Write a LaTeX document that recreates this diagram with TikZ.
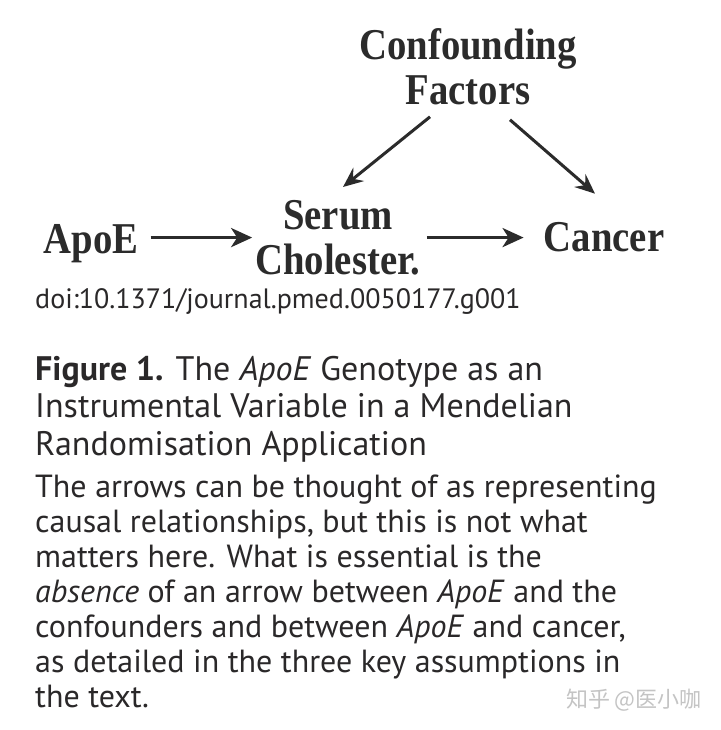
\documentclass[tikz,border=0pt]{standalone}
\usepackage{fontspec}
\usetikzlibrary{arrows.meta, positioning}
\setmainfont{PT Sans}
\newfontfamily\diagfont[FakeStretch=0.88]{Liberation Serif}
\newfontfamily\cjkfont{Noto Sans CJK SC}
\usepackage{xcolor}
\definecolor{FigBlack}{HTML}{2A2829}
\definecolor{DiagGrey}{HTML}{2B2B2B}
\definecolor{MarkGrey}{HTML}{C4C4C4}
\tikzset{
    % Diagram labels - bold serif, no frame
    factorlabel/.style={
        inner sep=0pt,
        align=center,
        text=DiagGrey,
        font=\diagfont\bfseries\fontsize{44}{45}\selectfont
    },
    % Caption text
    captext/.style={
        inner sep=0pt,
        align=left,
        anchor=north west,
        text=FigBlack
    },
    % Arrow style - straight lines only
    arrow/.style={
        -{Stealth[length=21pt,width=19pt,inset=6pt]},
        line width=3.6pt,
        draw=DiagGrey
    },
    diagarrow/.style={
        -{Stealth[length=20pt,width=17pt,inset=7pt]},
        line width=3pt,
        draw=DiagGrey
    }
}

\begin{document}
\begin{tikzpicture}[x=1pt, y=-1pt]
    \useasboundingbox[fill=white] (0,0) rectangle (720,730);

    \node[factorlabel, anchor=north] (conf) at (468,28) {Confounding\\Factors};
    \node[factorlabel, anchor=base] (apoe) at (91,253) {ApoE};
    \node[factorlabel, anchor=north] (serum) at (338,200) {Serum\\Cholester.};
    \node[factorlabel, anchor=base] (cancer) at (604,251) {Cancer};

    \draw[diagarrow] ([xshift=-38pt,yshift=-12pt]conf.south) -- ([xshift=5pt,yshift=13pt]serum.north);
    \draw[diagarrow] ([xshift=42pt,yshift=-15pt]conf.south) -- ([xshift=-9pt,yshift=28pt]cancer.north);
    \draw[arrow] ([xshift=12pt]apoe.east |- serum.west) -- ([xshift=-3pt]serum.west);
    \draw[arrow] ([xshift=6pt]serum.east) -- ([xshift=-20pt]cancer.west |- serum.east);

    \node[inner sep=0pt, anchor=base west, text=FigBlack, font=\fontsize{28}{30}\selectfont] (doi) at (35,308)
        {doi:10.1371/journal.pmed.0050177.g001};

    \node[captext, font=\fontsize{34}{37.5}\selectfont] (title) at (35,356)
        {\textbf{Figure 1.} The \textit{ApoE} Genotype as an\\
         Instrumental Variable in a Mendelian\\
         Randomisation Application};
    \node[captext, font=\fontsize{32}{35}\selectfont, below=12pt of title.south west, anchor=north west] (body)
        {The arrows can be thought of as representing\\
         causal relationships, but this is not what\\
         matters here. What is essential is the\\
         \textit{absence} of an arrow between \textit{ApoE} and the\\
         confounders and between \textit{ApoE} and cancer,\\
         as detailed in the three key assumptions in\\
         the text.};

    \node[inner sep=0pt, anchor=base east, text=MarkGrey, font=\cjkfont\fontsize{22}{24}\selectfont] (mark) at (702,707)
        {知乎 @医小咖};
\end{tikzpicture}
\end{document}
